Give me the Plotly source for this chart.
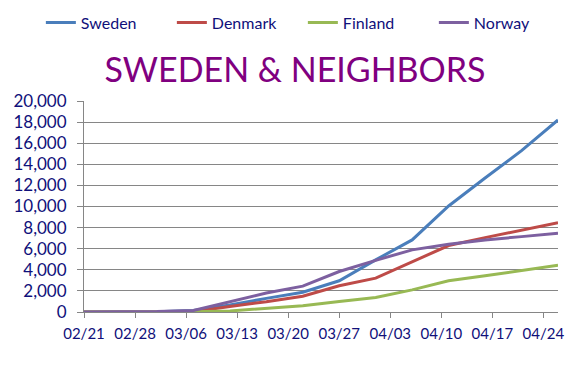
import plotly.graph_objects as go
import pandas as pd

dates = pd.date_range("2020-02-21", "2020-04-26", freq="5D")
sweden = [0, 2, 15, 140, 660, 1290, 1870, 2960, 4940, 6830, 10050, 12700, 15300, 18200]
denmark = [0, 0, 5, 30, 530, 975, 1500, 2485, 3210, 4780, 6300, 7050, 7780, 8470]
finland = [0, 0, 5, 12, 100, 340, 600, 1000, 1380, 2100, 2960, 3430, 3900, 4440]
norway = [0, 0, 40, 150, 1000, 1800, 2450, 3840, 4900, 5890, 6425, 6830, 7145, 7465]

series = [("Sweden", sweden, "#4A7EBB"), ("Denmark", denmark, "#BE4B48"),
          ("Finland", finland, "#98B954"), ("Norway", norway, "#7D60A0")]

fig = go.Figure()
for name, vals, col in series:
    fig.add_trace(go.Scatter(x=dates, y=vals, name=name, mode="lines",
                             line=dict(color=col, width=3)))

navy = "#10107A"
fig.update_layout(
    width=568, height=376,
    margin=dict(l=75.5, r=18, t=92.7, b=71.7, autoexpand=False),
    paper_bgcolor="white", plot_bgcolor="white",
    font=dict(family="Lato, Carlito, sans-serif", color=navy, size=16),
    title=dict(text="SWEDEN & NEIGHBORS", x=0.5053, xref="container", xanchor="center",
               y=0.835, yref="container", yanchor="middle",
               font=dict(size=34, color="#800080", family="Lato, sans-serif")),
    legend=dict(orientation="h", x=-0.091, y=1.372, xanchor="left", yanchor="middle",
                font=dict(size=16, color=navy), entrywidth=86, entrywidthmode="pixels",
                bgcolor="rgba(0,0,0,0)"),
    showlegend=True,
)
fig.update_xaxes(
    type="date", range=["2020-02-21", "2020-04-26"], tick0="2020-02-21", dtick=7 * 86400000,
    tickformat="%m/%d", showgrid=False, showline=True, linecolor="#868686", linewidth=1,
    ticks="outside", tickcolor="#868686", ticklen=5, tickfont=dict(size=15, color=navy),
    zeroline=False, ticklabelstandoff=3,
)
fig.update_yaxes(
    range=[0, 20000], dtick=2000, tickformat=",d", showgrid=True, gridcolor="#868686",
    gridwidth=1, showline=True, linecolor="#868686", linewidth=1, ticks="outside",
    tickcolor="#868686", ticklen=6, tickfont=dict(size=17, color=navy), zeroline=False,
    ticklabelstandoff=7,
)
fig.write_html("out.html")
